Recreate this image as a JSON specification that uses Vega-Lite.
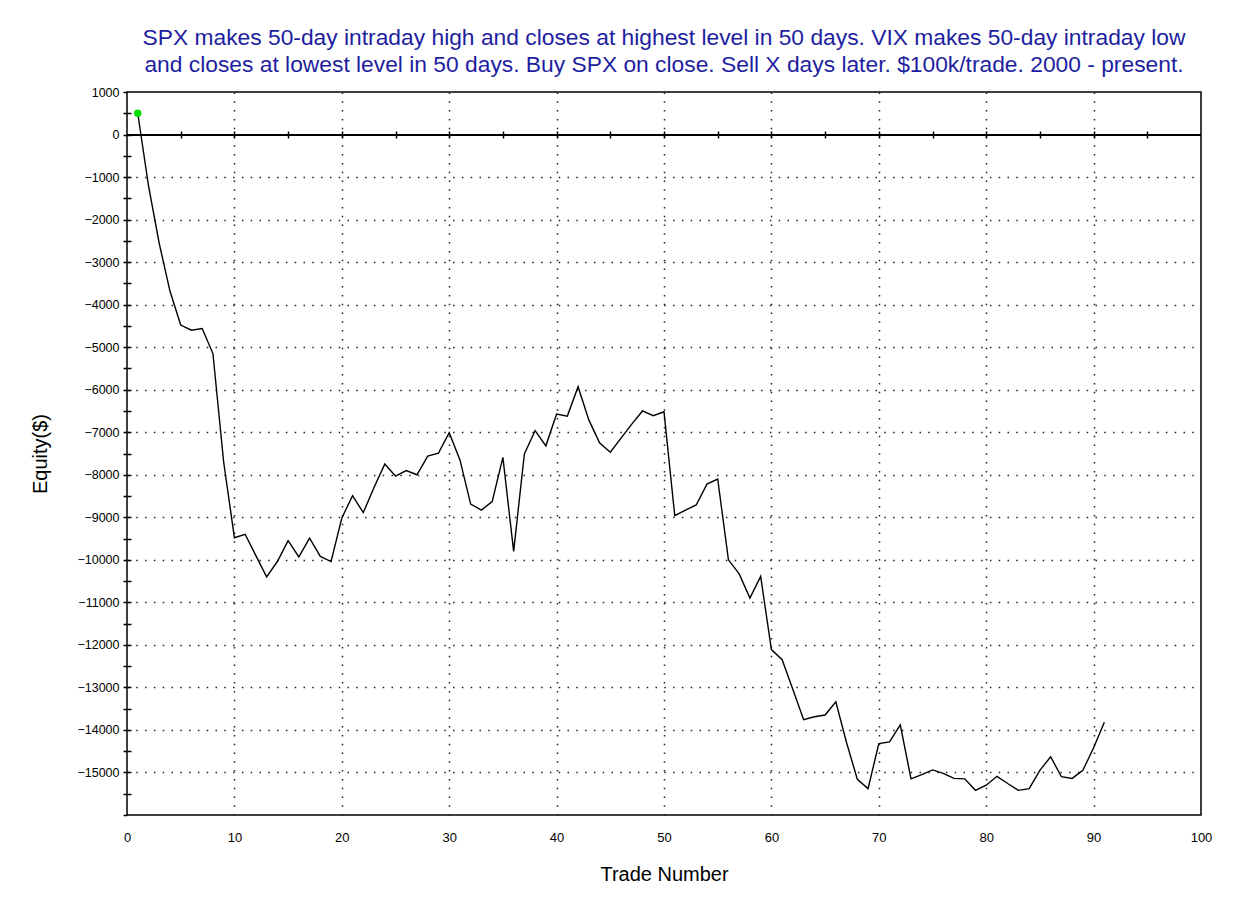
{
  "$schema": "https://vega.github.io/schema/vega-lite/v6.json",
  "width": 1074,
  "height": 723,
  "autosize": "none",
  "padding": {"left": 127, "top": 92, "right": 47, "bottom": 101},
  "background": "white",
  "config": {
    "font": "Liberation Sans",
    "view": {"stroke": "black", "strokeWidth": 1.5},
    "axis": {"labelFont": "Liberation Sans", "titleFont": "Liberation Sans", "labelColor": "#000", "titleColor": "#000", "tickColor": "#000", "domainColor": "#000"}
  },
  "title": {
    "text": ["SPX makes 50-day intraday high and closes at highest level in 50 days. VIX makes 50-day intraday low", "and closes at lowest level in 50 days. Buy SPX on close. Sell X days later. $100k/trade. 2000 - present."],
    "anchor": "middle",
    "frame": "group",
    "font": "Liberation Sans",
    "fontSize": 22.8,
    "fontWeight": "normal",
    "color": "#1e1ea0",
    "lineHeight": 27,
    "offset": 9
  },
  "data": {
    "values": [
      {"Trade": 1, "Equity": 500}, {"Trade": 2, "Equity": -1200}, {"Trade": 3, "Equity": -2560}, {"Trade": 4, "Equity": -3680},
      {"Trade": 5, "Equity": -4480}, {"Trade": 6, "Equity": -4600}, {"Trade": 7, "Equity": -4560}, {"Trade": 8, "Equity": -5150},
      {"Trade": 9, "Equity": -7700}, {"Trade": 10, "Equity": -9480}, {"Trade": 11, "Equity": -9400}, {"Trade": 12, "Equity": -9900},
      {"Trade": 13, "Equity": -10400}, {"Trade": 14, "Equity": -10040}, {"Trade": 15, "Equity": -9550}, {"Trade": 16, "Equity": -9930},
      {"Trade": 17, "Equity": -9490}, {"Trade": 18, "Equity": -9920}, {"Trade": 19, "Equity": -10040}, {"Trade": 20, "Equity": -9020},
      {"Trade": 21, "Equity": -8490}, {"Trade": 22, "Equity": -8890}, {"Trade": 23, "Equity": -8300}, {"Trade": 24, "Equity": -7750},
      {"Trade": 25, "Equity": -8030}, {"Trade": 26, "Equity": -7900}, {"Trade": 27, "Equity": -8000}, {"Trade": 28, "Equity": -7560},
      {"Trade": 29, "Equity": -7490}, {"Trade": 30, "Equity": -7010}, {"Trade": 31, "Equity": -7650}, {"Trade": 32, "Equity": -8690},
      {"Trade": 33, "Equity": -8830}, {"Trade": 34, "Equity": -8630}, {"Trade": 35, "Equity": -7590}, {"Trade": 36, "Equity": -9800},
      {"Trade": 37, "Equity": -7510}, {"Trade": 38, "Equity": -6960}, {"Trade": 39, "Equity": -7320}, {"Trade": 40, "Equity": -6570},
      {"Trade": 41, "Equity": -6620}, {"Trade": 42, "Equity": -5930}, {"Trade": 43, "Equity": -6710}, {"Trade": 44, "Equity": -7250},
      {"Trade": 45, "Equity": -7470}, {"Trade": 46, "Equity": -7140}, {"Trade": 47, "Equity": -6810}, {"Trade": 48, "Equity": -6500},
      {"Trade": 49, "Equity": -6610}, {"Trade": 50, "Equity": -6520}, {"Trade": 51, "Equity": -8960}, {"Trade": 52, "Equity": -8830},
      {"Trade": 53, "Equity": -8710}, {"Trade": 54, "Equity": -8220}, {"Trade": 55, "Equity": -8100}, {"Trade": 56, "Equity": -10000},
      {"Trade": 57, "Equity": -10330}, {"Trade": 58, "Equity": -10900}, {"Trade": 59, "Equity": -10390}, {"Trade": 60, "Equity": -12110},
      {"Trade": 61, "Equity": -12350}, {"Trade": 62, "Equity": -13050}, {"Trade": 63, "Equity": -13760}, {"Trade": 64, "Equity": -13690},
      {"Trade": 65, "Equity": -13650}, {"Trade": 66, "Equity": -13340}, {"Trade": 67, "Equity": -14300}, {"Trade": 68, "Equity": -15160},
      {"Trade": 69, "Equity": -15380}, {"Trade": 70, "Equity": -14320}, {"Trade": 71, "Equity": -14280}, {"Trade": 72, "Equity": -13880},
      {"Trade": 73, "Equity": -15150}, {"Trade": 74, "Equity": -15050}, {"Trade": 75, "Equity": -14940}, {"Trade": 76, "Equity": -15020},
      {"Trade": 77, "Equity": -15140}, {"Trade": 78, "Equity": -15150}, {"Trade": 79, "Equity": -15420}, {"Trade": 80, "Equity": -15300},
      {"Trade": 81, "Equity": -15090}, {"Trade": 82, "Equity": -15260}, {"Trade": 83, "Equity": -15420}, {"Trade": 84, "Equity": -15380},
      {"Trade": 85, "Equity": -14950}, {"Trade": 86, "Equity": -14630}, {"Trade": 87, "Equity": -15100}, {"Trade": 88, "Equity": -15140},
      {"Trade": 89, "Equity": -14950}, {"Trade": 90, "Equity": -14420}, {"Trade": 91, "Equity": -13820}
    ]
  },
  "resolve": {"axis": {"x": "independent", "y": "independent"}},
  "layer": [
    {
      "mark": {"type": "line", "color": "black", "strokeWidth": 1.4},
      "encoding": {
        "x": {
          "field": "Trade", "type": "quantitative",
          "scale": {"domain": [0, 100], "nice": false, "zero": false},
          "axis": {
            "orient": "bottom", "title": "Trade Number", "values": [0, 10, 20, 30, 40, 50, 60, 70, 80, 90, 100],
            "ticks": false, "domain": false, "labelFontSize": 13, "labelPadding": 16, "labelFlush": false,
            "titleFontSize": 20, "titleFontWeight": "normal", "titlePadding": 20,
            "grid": true, "gridColor": "#222", "gridDash": [1.5, 7.3], "gridWidth": 1.5,
            "gridOpacity": {"condition": {"test": "datum.value == 0 || datum.value == 100", "value": 0}, "value": 1}
          }
        },
        "y": {
          "field": "Equity", "type": "quantitative",
          "scale": {"domain": [-16000, 1000], "nice": false, "zero": false},
          "axis": {
            "orient": "left", "title": "Equity($)",
            "values": [1000, 500, 0, -500, -1000, -1500, -2000, -2500, -3000, -3500, -4000, -4500, -5000, -5500, -6000, -6500, -7000, -7500, -8000, -8500, -9000, -9500, -10000, -10500, -11000, -11500, -12000, -12500, -13000, -13500, -14000, -14500, -15000, -15500, -16000],
            "format": "d",
            "labelExpr": "(datum.value % 1000 == 0 && datum.value > -16000) ? datum.label : ''",
            "tickSize": 4, "tickWidth": 1.5, "domain": false, "labelFontSize": 12.5, "labelPadding": 4,
            "titleFontSize": 20, "titleFontWeight": "normal", "titlePadding": 26,
            "grid": true, "gridColor": "#222", "gridDash": [1.5, 7.3], "gridWidth": 1.5,
            "gridOpacity": {"condition": {"test": "datum.value % 1000 != 0 || datum.value == 1000 || datum.value == -16000 || datum.value == 0", "value": 0}, "value": 1}
          }
        }
      }
    },
    {
      "mark": {"type": "rule", "color": "black", "strokeWidth": 1.2},
      "encoding": {"y": {"datum": 0, "type": "quantitative", "axis": null}}
    },
    {
      "transform": [{"filter": "datum.Trade == 1"}],
      "mark": {"type": "point", "filled": true, "color": "#00e000", "size": 55, "opacity": 1},
      "encoding": {
        "x": {
          "field": "Trade", "type": "quantitative",
          "axis": {
            "orient": "top", "offset": -46, "title": null, "labels": false, "domain": false, "grid": false,
            "values": [5, 10, 15, 20, 25, 30, 35, 40, 45, 50, 55, 60, 65, 70, 75, 80, 85, 90, 95],
            "tickSize": 7, "tickWidth": 1.5
          }
        },
        "y": {
          "field": "Equity", "type": "quantitative",
          "axis": {
            "orient": "left", "offset": -4, "title": null, "labels": false, "domain": false, "grid": false,
            "values": [500, 0, -500, -1000, -1500, -2000, -2500, -3000, -3500, -4000, -4500, -5000, -5500, -6000, -6500, -7000, -7500, -8000, -8500, -9000, -9500, -10000, -10500, -11000, -11500, -12000, -12500, -13000, -13500, -14000, -14500, -15000, -15500],
            "tickSize": 4, "tickWidth": 1.5
          }
        }
      }
    }
  ]
}
